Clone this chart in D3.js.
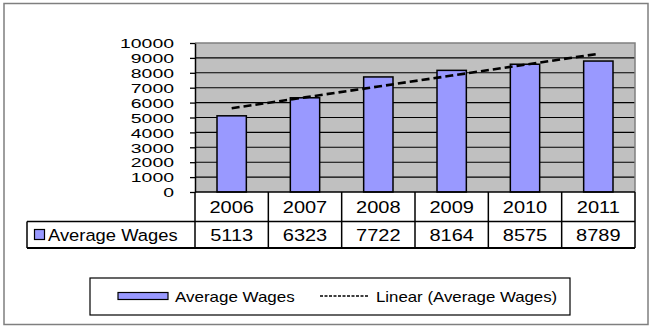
<!DOCTYPE html>
<html>
<head>
<meta charset="utf-8">
<script src="https://cdn.jsdelivr.net/npm/d3@7"></script>
<style>
  html, body { margin: 0; padding: 0; background: #fff; }
  svg { display: block; font-family: "Liberation Sans", Arial, sans-serif; }
</style>
</head>
<body>
<svg id="chart" width="653" height="327"></svg>
<script>
// Average wages by year
const years = ["2006", "2007", "2008", "2009", "2010", "2011"];
const wages = [5113, 6323, 7722, 8164, 8575, 8789];
const yTicks = [0, 1000, 2000, 3000, 4000, 5000, 6000, 7000, 8000, 9000, 10000];
const seriesName = "Average Wages";
const trendName = "Linear (Average Wages)";

const svg = d3.select("#chart");

// frame
svg.append("rect")
  .attr("x", 4).attr("y", 3.5).attr("width", 644).attr("height", 321)
  .attr("fill", "#fff").attr("stroke", "#7f7f7f").attr("stroke-width", 1.5);

const plot = { left: 195, right: 635, top: 43, bottom: 192 };

const x = d3.scaleBand().domain(years).range([plot.left, plot.right]).padding(0);
const y = d3.scaleLinear().domain([0, 10000]).range([plot.bottom, plot.top]);
const bw = x.bandwidth();

// plot background
svg.append("rect")
  .attr("x", plot.left).attr("y", plot.top)
  .attr("width", plot.right - plot.left).attr("height", plot.bottom - plot.top)
  .attr("fill", "#c0c0c0");

// gridlines
svg.append("g")
  .selectAll("line")
  .data(yTicks.filter(t => t > 0 && t < 10000))
  .join("line")
  .attr("x1", plot.left).attr("x2", plot.right)
  .attr("y1", d => y(d)).attr("y2", d => y(d))
  .attr("stroke", "#000").attr("stroke-width", 1.1);

// top and right border of the plot area
svg.append("path")
  .attr("d", `M${plot.left},${y(10000)}H${plot.right}V${plot.bottom}`)
  .attr("fill", "none").attr("stroke", "#808080").attr("stroke-width", 1.5);

// bars
svg.append("g")
  .selectAll("rect")
  .data(years.map((yr, i) => ({ yr, v: wages[i] })))
  .join("rect")
  .attr("x", d => x(d.yr) + bw * 0.3)
  .attr("width", bw * 0.4)
  .attr("y", d => y(d.v))
  .attr("height", d => y(0) - y(d.v))
  .attr("fill", "#9999ff").attr("stroke", "#000").attr("stroke-width", 1.5);

// linear trendline (least squares over category index)
const n = wages.length;
const xs = d3.range(1, n + 1);
const mx = d3.mean(xs), my = d3.mean(wages);
const slope = d3.sum(xs, (xi, i) => (xi - mx) * (wages[i] - my)) / d3.sum(xs, xi => (xi - mx) ** 2);
const icpt = my - slope * mx;
const trend = years.map((yr, i) => ({ yr, v: icpt + slope * (i + 1) }));
svg.append("path")
  .datum(trend)
  .attr("d", d3.line().x(d => x(d.yr) + bw / 2).y(d => y(d.v)))
  .attr("fill", "none").attr("stroke", "#000")
  .attr("stroke-width", 2.6).attr("stroke-dasharray", "8,4");

// y axis
const yAxis = svg.append("g")
  .attr("transform", `translate(${plot.left},0)`)
  .call(d3.axisLeft(y).tickValues(yTicks).tickFormat(d3.format("d")).tickSize(5).tickSizeOuter(0));
yAxis.select(".domain").attr("stroke", "#000").attr("stroke-width", 1.5);
yAxis.selectAll(".tick line").attr("stroke", "#000").attr("stroke-width", 1.3);
yAxis.selectAll(".tick text")
  .attr("x", null).attr("dy", null)
  .attr("dominant-baseline", "central")
  .attr("fill", "#000")
  .style("font-size", "13.5px")
  .style("font-family", "Liberation Sans, Arial, sans-serif")
  .attr("transform", "translate(-21,0.3) scale(1.44,1)");
// axis line continues down through the data table
svg.append("line")
  .attr("x1", plot.left).attr("x2", plot.left)
  .attr("y1", plot.bottom).attr("y2", 248)
  .attr("stroke", "#000").attr("stroke-width", 1.5);

// data table
const rowTop = plot.bottom, rowMid = 221.5, rowBot = 248, tableLeft = 27;
const tbl = svg.append("g").attr("stroke", "#000").attr("stroke-width", 1.5);
tbl.append("line").attr("x1", plot.left).attr("x2", plot.right).attr("y1", rowTop).attr("y2", rowTop);
tbl.append("line").attr("x1", tableLeft).attr("x2", plot.right).attr("y1", rowMid).attr("y2", rowMid);
tbl.append("line").attr("x1", tableLeft).attr("x2", plot.right).attr("y1", rowBot).attr("y2", rowBot).attr("stroke-width", 2);
tbl.append("line").attr("x1", tableLeft).attr("x2", tableLeft).attr("y1", rowMid).attr("y2", rowBot);
tbl.selectAll("line.col")
  .data(years.slice(1).concat(["end"]))
  .join("line").attr("class", "col")
  .attr("x1", d => d === "end" ? plot.right : x(d))
  .attr("x2", d => d === "end" ? plot.right : x(d))
  .attr("y1", rowTop).attr("y2", rowBot);

function stretchedText(g, txt, tx, ty, size, sx, anchor) {
  return g.append("text")
    .attr("transform", `translate(${tx},${ty}) scale(${sx},1)`)
    .attr("text-anchor", anchor)
    .attr("dominant-baseline", "central")
    .style("font-size", size + "px")
    .attr("fill", "#000")
    .text(txt);
}

const cells = svg.append("g");
years.forEach((yr, i) => {
  stretchedText(cells, yr, x(yr) + bw / 2, (rowTop + rowMid) / 2 + 0.5, 16, 1.25, "middle");
  stretchedText(cells, String(wages[i]), x(yr) + bw / 2, (rowMid + rowBot) / 2 + 0.5, 16, 1.25, "middle");
});
// row header with series key
cells.append("rect")
  .attr("x", 34.5).attr("y", 229.5).attr("width", 10).attr("height", 10)
  .attr("fill", "#9999ff").attr("stroke", "#000").attr("stroke-width", 1.2);
stretchedText(cells, seriesName, 48, (rowMid + rowBot) / 2 + 0.5, 17, 1.08, "start");

// legend
const lg = svg.append("g");
lg.append("rect")
  .attr("x", 90).attr("y", 278).attr("width", 480).attr("height", 37)
  .attr("fill", "#fff").attr("stroke", "#000").attr("stroke-width", 1.2);
lg.append("rect")
  .attr("x", 118).attr("y", 292.5).attr("width", 50).attr("height", 7)
  .attr("fill", "#9999ff").attr("stroke", "#000").attr("stroke-width", 1.2);
stretchedText(lg, seriesName, 175, 296.5, 14.5, 1.17, "start");
lg.append("line")
  .attr("x1", 320).attr("x2", 369).attr("y1", 296).attr("y2", 296)
  .attr("stroke", "#000").attr("stroke-width", 1.5).attr("stroke-dasharray", "3,1.5");
stretchedText(lg, trendName, 376, 296.5, 14.5, 1.16, "start");
</script>
</body>
</html>
